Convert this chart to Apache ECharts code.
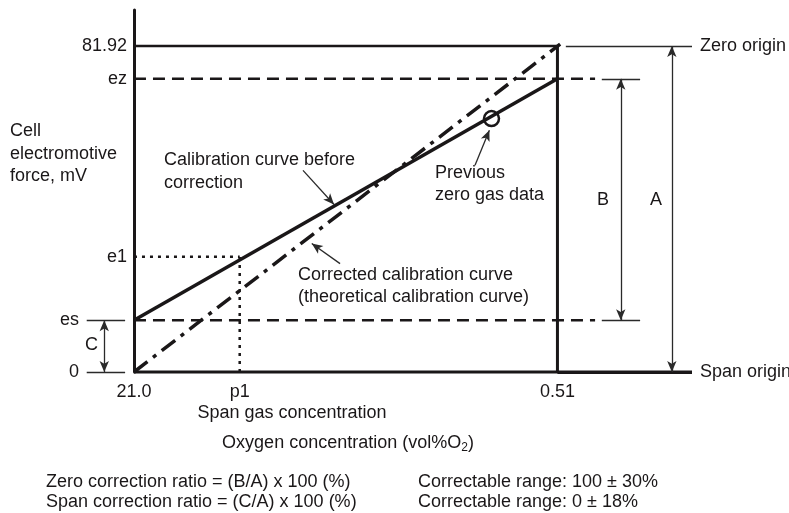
<!DOCTYPE html>
<html>
<head>
<meta charset="utf-8">
<script src="https://cdn.jsdelivr.net/npm/echarts@6/dist/echarts.min.js"></script>
<style>
html,body{margin:0;padding:0;background:#fff}
#main{width:789px;height:513px}
</style>
</head>
<body>
<div id="main"></div>
<script>
// oxygen concentration axis (log, 21 on the left)
var xTicks = [21, 8.3, 0.51];
var xTickText = ['21.0', 'p1', '0.51'];
// cell emf ticks, mV
var yTicks = [0, 13, 29, 73.7, 81.92];
var yTickText = ['0', 'es', 'e1', 'ez', '81.92'];
var yOuterTicks = [0, 13];   // the two labels that sit left of the stubs
var xMin = 0.1565, xMax = 32, yMax = 91;

var beforeCurve = [[21, 13], [0.51, 73.7]];
var correctedCurve = [[21, 0], [0.498, 82.4]];
var zeroLevel = [[21, 81.92], [0.51, 81.92]];
var zeroConc = [[0.51, 0], [0.51, 81.92]];
var baseLine = [[21, 0], [xMin, 0]];
var ezLevel = [[21, 73.7], [0.3665, 73.7]];
var esLevel = [[21, 13], [0.3665, 13]];
var e1Level = [[21, 29], [8.3, 29]];
var p1Conc = [[8.3, 0], [8.3, 29]];
var prevZero = [[0.91, 63.7]];

// thin helper lines
var stubs = [
  [[31.8, 13], [22.7, 13]],
  [[31.8, 0], [22.7, 0]],
  [[0.3455, 73.7], [0.2468, 73.7]],
  [[0.3455, 13], [0.2468, 13]]
];
var zeroOrigin = [[0.4738, 81.92], [xMin, 81.92]];
var spanOrigin = [[0.51, 0], [xMin, 0]];
var dimArrows = [
  [[0.1868, 81.92], [0.1868, 0]],   // A
  [[0.2925, 73.7], [0.2925, 13]],   // B
  [[27.26, 13], [27.26, 0]]         // C
];
var pointers = [
  [[4.762, 50.7], [3.626, 42.1]],
  [[1.0515, 51.96], [0.927, 60.8]],
  [[3.439, 27.25], [4.41, 32.28]]
];

var ink = '#1a1718';
var FONT = '"Liberation Sans", Arial, sans-serif';

var myChart = echarts.init(document.getElementById('main'));

function seg(data, width, type) {
  return {
    type: 'line', data: data, symbol: 'none', clip: false, silent: true,
    lineStyle: {color: ink, width: width, type: type || 'solid', opacity: 1}, z: 3
  };
}

function pairs(list, s0, s1) {
  return list.map(function (p) {
    return [{coord: p[0], symbol: s0}, {coord: p[1], symbol: s1}];
  });
}

function yLabel(v) {
  var i = yTicks.indexOf(v);
  return i >= 0 ? yTickText[i] : '';
}

var thin = {color: '#2a2a2a', width: 1.3, type: 'solid'};

var option = {
  animation: false,
  grid: {left: 86, right: 97, top: 10, bottom: 141, outerBoundsMode: 'none'},
  xAxis: {
    type: 'log', min: xMin, max: xMax, inverse: true,
    axisLine: {show: false}, axisTick: {show: false},
    axisLabel: {show: false}, splitLine: {show: false}
  },
  yAxis: [{
    type: 'value', min: 0, max: yMax, position: 'left', offset: -48,
    axisLine: {show: true, lineStyle: {color: ink, width: 3}},
    axisTick: {show: false}, splitLine: {show: false},
    axisLabel: {
      margin: 7, color: ink, fontSize: 18, fontFamily: FONT,
      customValues: yTicks.filter(function (v) { return yOuterTicks.indexOf(v) < 0; }),
      formatter: yLabel
    }
  }, {
    type: 'value', min: 0, max: yMax, position: 'left', offset: 0,
    axisLine: {show: false}, axisTick: {show: false}, splitLine: {show: false},
    axisLabel: {
      margin: 7, color: ink, fontSize: 18, fontFamily: FONT,
      customValues: yOuterTicks, formatter: yLabel
    }
  }],
  series: [
    seg(baseLine, 3),
    seg(zeroLevel, 2.5),
    seg(zeroConc, 3),
    seg(ezLevel, 2.5, [12, 7]),
    seg(esLevel, 2.5, [12, 7]),
    seg(e1Level, 2.5, [3, 5]),
    seg(p1Conc, 2.5, [3, 5]),
    seg(correctedCurve, 3.5, [17, 7, 4, 7]),
    seg(beforeCurve, 3.5),
    {
      type: 'scatter', data: prevZero, symbol: 'circle', symbolSize: 15, clip: false, silent: true, z: 4,
      itemStyle: {color: 'rgba(0,0,0,0)', borderColor: ink, borderWidth: 2.5, opacity: 1}
    },
    {
      // x tick labels
      type: 'scatter', symbolSize: 0, clip: false, silent: true,
      itemStyle: {opacity: 1},
      data: xTicks.map(function (v, i) { return {name: xTickText[i], value: [v, 0]}; }),
      label: {show: true, position: 'bottom', distance: 11, formatter: '{b}', color: ink, opacity: 1, fontSize: 18, fontFamily: FONT}
    },
    {
      type: 'line', data: [], silent: true,
      markLine: {
        silent: true, symbol: ['none', 'none'], label: {show: false},
        lineStyle: thin, emphasis: {disabled: true},
        data: pairs(stubs, 'none', 'none').concat([
          [{coord: zeroOrigin[0], symbol: 'none',
            label: {show: true, position: 'end', distance: 8, formatter: 'Zero origin', color: ink, fontSize: 18, fontFamily: FONT}},
           {coord: zeroOrigin[1], symbol: 'none'}],
          [{coord: spanOrigin[0], symbol: 'none', lineStyle: {color: ink, width: 3},
            label: {show: true, position: 'end', distance: 8, formatter: 'Span origin', color: ink, fontSize: 18, fontFamily: FONT}},
           {coord: spanOrigin[1], symbol: 'none'}]
        ])
      }
    },
    {
      type: 'line', data: [], silent: true,
      markLine: {
        silent: true, label: {show: false}, symbolSize: [7, 11],
        lineStyle: thin, emphasis: {disabled: true},
        data: pairs(dimArrows, 'arrow', 'arrow').concat(pairs(pointers, 'none', 'arrow'))
      }
    }
  ],
  graphic: [
    {type: 'text', x: 10, y: 120, style: {text: 'Cell\nelectromotive\nforce, mV', font: '18px ' + FONT, fill: ink, lineHeight: 22.5, verticalAlign: 'top'}},
    {type: 'text', x: 164, y: 149, style: {text: 'Calibration curve before\ncorrection', font: '18px ' + FONT, fill: ink, lineHeight: 22.5, verticalAlign: 'top'}},
    {type: 'text', x: 435, y: 161.5, style: {text: 'Previous\nzero gas data', font: '18px ' + FONT, fill: ink, lineHeight: 22.5, verticalAlign: 'top'}},
    {type: 'text', x: 298, y: 263.5, style: {text: 'Corrected calibration curve\n(theoretical calibration curve)', font: '18px ' + FONT, fill: ink, lineHeight: 22.5, verticalAlign: 'top'}},
    {type: 'text', x: 597, y: 200, style: {text: 'B', font: '18px ' + FONT, fill: ink, verticalAlign: 'middle'}},
    {type: 'text', x: 650, y: 200, style: {text: 'A', font: '18px ' + FONT, fill: ink, verticalAlign: 'middle'}},
    {type: 'text', x: 85, y: 345, style: {text: 'C', font: '18px ' + FONT, fill: ink, verticalAlign: 'middle'}},
    {type: 'text', x: 292, y: 413, style: {text: 'Span gas concentration', font: '18px ' + FONT, fill: ink, align: 'center', verticalAlign: 'middle'}},
    {type: 'text', x: 348, y: 443, style: {
      text: '{a|Oxygen concentration (vol%O}{s|2}{a|)}', fill: ink, align: 'center', verticalAlign: 'middle',
      rich: {
        a: {fontSize: 18, fontFamily: FONT, color: ink},
        s: {fontSize: 12, fontFamily: FONT, color: ink, padding: [10, 0, 0, 0]}
      }
    }},
    {type: 'text', x: 46, y: 482, style: {text: 'Zero correction ratio = (B/A) x 100 (%)', font: '18px ' + FONT, fill: ink, verticalAlign: 'middle'}},
    {type: 'text', x: 46, y: 502, style: {text: 'Span correction ratio = (C/A) x 100 (%)', font: '18px ' + FONT, fill: ink, verticalAlign: 'middle'}},
    {type: 'text', x: 418, y: 482, style: {text: 'Correctable range: 100 \u00b1 30%', font: '18px ' + FONT, fill: ink, verticalAlign: 'middle'}},
    {type: 'text', x: 418, y: 502, style: {text: 'Correctable range: 0 \u00b1 18%', font: '18px ' + FONT, fill: ink, verticalAlign: 'middle'}}
  ]
};
myChart.setOption(option);
window.addEventListener('resize', function () { myChart.resize(); });
</script>
</body>
</html>
